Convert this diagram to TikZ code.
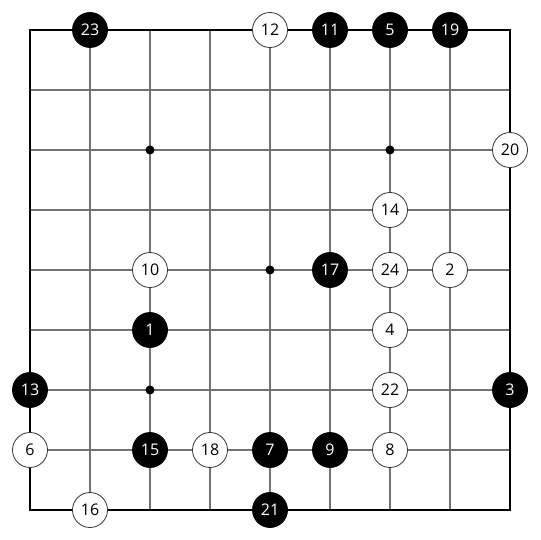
\documentclass[tikz,border=0pt]{standalone}
\usepackage{fontspec}
\setmainfont{Open Sans}
\begin{document}
\begin{tikzpicture}[x=1pt,y=-1pt,
  gridline/.style={draw=black!55,line width=1.1pt},
  borderline/.style={draw=black,line width=2pt},
  bstone/.style={circle,fill=black,draw=black,line width=0.8pt,minimum size=35pt,inner sep=0pt,text=white,font=\fontsize{16}{16}\selectfont},
  wstone/.style={circle,fill=white,draw=black!80,line width=0.8pt,minimum size=35pt,inner sep=0pt,text=black,font=\fontsize{16}{16}\selectfont},
  hoshi/.style={circle,fill=black,inner sep=0pt,minimum size=9pt}]
\useasboundingbox (0,0) rectangle (540,540);
\fill[white] (0,0) rectangle (540,540);
\foreach \i in {1,...,7}{
  \draw[gridline] (30+60*\i,30) -- (30+60*\i,510);
  \draw[gridline] (30,30+60*\i) -- (510,30+60*\i);
}
\draw[borderline] (30,30) rectangle (510,510);
\foreach \x/\y [count=\k] in {150/150,390/150,270/270,150/390,390/390}
  \node[hoshi] (h\k) at (\x,\y) {};
% black stones
\foreach \x/\y/\n in {90/30/23,330/30/11,390/30/5,450/30/19,330/270/17,150/330/1,30/390/13,510/390/3,150/450/15,270/450/7,330/450/9,270/510/21}
  \node[bstone] (s\n) at (\x,\y) {\n};
% white stones
\foreach \x/\y/\n in {270/30/12,510/150/20,390/210/14,150/270/10,390/270/24,450/270/2,390/330/4,390/390/22,30/450/6,210/450/18,390/450/8,90/510/16}
  \node[wstone] (s\n) at (\x,\y) {\n};
\end{tikzpicture}
\end{document}
